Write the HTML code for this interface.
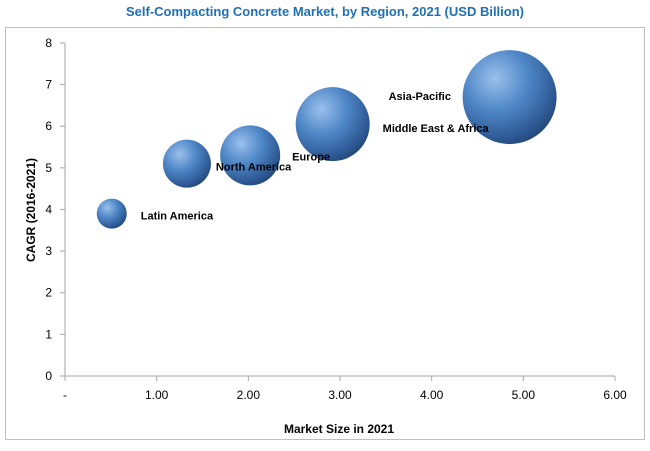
<!DOCTYPE html>
<html><head><meta charset="utf-8"><style>
body{margin:0;background:#fff;font-family:"Liberation Sans",sans-serif}
svg text{font-family:"Liberation Sans",sans-serif}
</style></head><body>
<svg width="650" height="446" xmlns="http://www.w3.org/2000/svg">
<defs>
<radialGradient id="g" cx="0.35" cy="0.3" r="0.75">
<stop offset="0" stop-color="#9bc0ec"/><stop offset="0.45" stop-color="#5088c8"/><stop offset="0.85" stop-color="#2e5a96"/><stop offset="1" stop-color="#224878"/>
</radialGradient>
</defs>
<text x="325" y="16" text-anchor="middle" font-size="13" font-weight="bold" fill="#1f6fb5">Self-Compacting Concrete Market, by Region, 2021 (USD Billion)</text>
<rect x="5.5" y="27.5" width="639" height="412" fill="none" stroke="#bfbfbf"/>
<g id="axes"></g>
<g id="bubbles"></g>
<g id="labels"></g>
<text x="339" y="433" text-anchor="middle" font-size="12" font-weight="bold">Market Size in 2021</text>
<text transform="translate(35,210) rotate(-90)" text-anchor="middle" font-size="12" font-weight="bold">CAGR (2016-2021)</text>
</svg>
<script>
const regions=["Latin America","North America","Europe","Middle East & Africa","Asia-Pacific"];
const marketSize=[0.51,1.33,2.02,2.92,4.85];
const cagr=[3.9,5.1,5.3,6.05,6.7];
const bubbleSize=[15,24,30,37,47];
const xTicks=["-","1.00","2.00","3.00","4.00","5.00","6.00"];
const yTicks=["0","1","2","3","4","5","6","7","8"];
const labelOffsets=[[29,6],[29,7],[42,5],[50,8],[-121,3]];
const ns="http://www.w3.org/2000/svg";
const X=v=>65+v*91.67, Y=v=>376-v*41.63;
const ax=document.getElementById("axes"), bg=document.getElementById("bubbles"), lg=document.getElementById("labels");
function mk(t,a,p){const e=document.createElementNS(ns,t);for(const k in a)e.setAttribute(k,a[k]);p.appendChild(e);return e;}
let l=mk("line",{x1:65,y1:Y(8),x2:65,y2:376,stroke:"#a6a6a6"},ax);


l=mk("line",{x1:65,y1:376,x2:X(6),y2:376,stroke:"#a6a6a6"},ax);


yTicks.forEach((t,i)=>{mk("line",{x1:60,x2:65,y1:Y(i),y2:Y(i),stroke:"#a6a6a6"},ax);
const e=mk("text",{x:52,y:Y(i)+4,"text-anchor":"end","font-size":12},ax);e.textContent=t;

});
xTicks.forEach((t,i)=>{mk("line",{x1:X(i),x2:X(i),y1:376,y2:381,stroke:"#a6a6a6"},ax);
const e=mk("text",{x:X(i),y:399,"text-anchor":"middle","font-size":12},ax);e.textContent=t;

});
regions.forEach((r,i)=>{const cx=X(marketSize[i]),cy=Y(cagr[i]);
const c=mk("circle",{cx:cx,cy:cy,r:bubbleSize[i],fill:"url(#g)"},bg);


const t=mk("text",{x:cx+labelOffsets[i][0],y:cy+labelOffsets[i][1],"font-size":11,"font-weight":"bold"},lg);t.textContent=r;

});
</script>
</body></html>
